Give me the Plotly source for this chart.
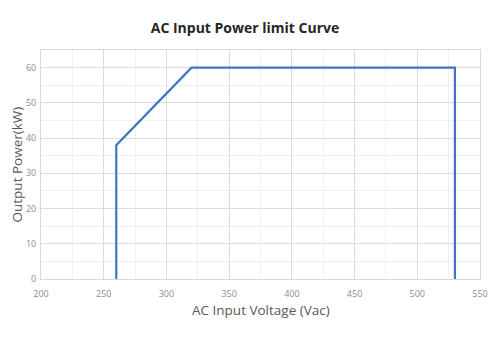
import plotly.graph_objects as go

voltage = [260, 260, 320, 530, 530]
power = [0, 38, 60, 60, 0]
x_ticks = [200, 250, 300, 350, 400, 450, 500, 550]
y_ticks = [0, 10, 20, 30, 40, 50, 60]

fig = go.Figure()
fig.add_trace(go.Scatter(x=voltage, y=power, mode="lines",
                         line=dict(color="#4472C4", width=2.2), showlegend=False))

fig.update_layout(
    width=490, height=340,
    margin=dict(l=41, r=10, t=50, b=61),
    paper_bgcolor="white", plot_bgcolor="white",
    title=dict(text="<b>AC Input Power limit Curve</b>", x=0.5, xanchor="center",
               y=1 - 28/340, yanchor="middle",
               font=dict(family="Open Sans", size=14, color="#262626")),
    font=dict(family="Open Sans"),
    annotations=[
        dict(text="AC Input Voltage (Vac)", xref="paper", yref="paper", x=0.5, y=-31/229,
             xanchor="center", yanchor="middle", showarrow=False,
             font=dict(size=13.5, color="#595959")),
        dict(text="Output Power(kW)", xref="paper", yref="paper", x=-25/439, y=0.5,
             xanchor="center", yanchor="middle", showarrow=False, textangle=-90,
             font=dict(size=13.5, color="#595959")),
    ],
)
fig.update_xaxes(range=[200, 550], tickvals=x_ticks, showgrid=True, gridcolor="#dcdcdc",
                 gridwidth=1, zeroline=False, showline=True, linecolor="#d9d9d9",
                 mirror=True, ticks="outside", ticklen=6, tickcolor="rgba(0,0,0,0)",
                 tickfont=dict(size=9, color="#8c8c8c"), automargin=False,
                 minor=dict(dtick=25, showgrid=True, gridcolor="#f0f0f0", gridwidth=1))
fig.update_yaxes(range=[0, 65], tickvals=y_ticks, showgrid=True, gridcolor="#dcdcdc",
                 gridwidth=1, zeroline=False, showline=True, linecolor="#d9d9d9",
                 mirror=True, ticks="outside", ticklen=2, tickcolor="rgba(0,0,0,0)",
                 tickfont=dict(size=9, color="#8c8c8c"), automargin=False,
                 minor=dict(dtick=5, showgrid=True, gridcolor="#f0f0f0", gridwidth=1))

fig.write_html("out.html")
